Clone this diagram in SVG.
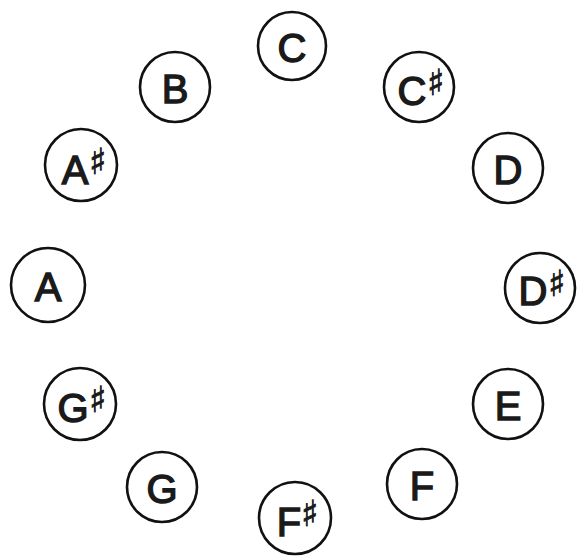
<svg xmlns="http://www.w3.org/2000/svg" width="577" height="556" viewBox="0 0 577 556">
<style>
.n{fill:#fff;stroke:#111;stroke-width:2.6}
.t{font-family:"Liberation Sans",Arial,sans-serif;font-size:40px;fill:#1a1a1a;stroke:#1a1a1a;stroke-width:1.4;text-anchor:middle;dominant-baseline:central}
.s{font-family:"DejaVu Sans",sans-serif;font-size:36px;fill:#1a1a1a;stroke:#1a1a1a;stroke-width:0.8;text-anchor:middle;dominant-baseline:central}
</style>
<rect width="577" height="556" fill="#fff"/>
<g id="connectors"/>
<g id="C"><circle class="n" cx="292" cy="46" r="34"/><text class="t" x="292" y="48">C</text></g>
<g id="Cs"><circle class="n" cx="419" cy="87" r="35"/><text class="t" x="412" y="91">C</text><text class="s" x="436" y="82">♯</text></g>
<g id="D"><circle class="n" cx="508" cy="168" r="35"/><text class="t" x="508" y="170">D</text></g>
<g id="Ds"><circle class="n" cx="540" cy="288" r="35"/><text class="t" x="533" y="291">D</text><text class="s" x="557" y="283">♯</text></g>
<g id="E"><circle class="n" cx="508" cy="404" r="35"/><text class="t" x="508" y="406">E</text></g>
<g id="F"><circle class="n" cx="422" cy="484" r="35"/><text class="t" x="422" y="486">F</text></g>
<g id="Fs"><circle class="n" cx="295" cy="518" r="36"/><text class="t" x="289" y="522">F</text><text class="s" x="310" y="513">♯</text></g>
<g id="G"><circle class="n" cx="162" cy="487" r="35"/><text class="t" x="162" y="489">G</text></g>
<g id="Gs"><circle class="n" cx="80" cy="404" r="36"/><text class="t" x="73" y="408">G</text><text class="s" x="98" y="399">♯</text></g>
<g id="A"><circle class="n" cx="48" cy="285" r="37"/><text class="t" x="48" y="287">A</text></g>
<g id="As"><circle class="n" cx="81" cy="165" r="36"/><text class="t" x="75" y="170">A</text><text class="s" x="98" y="161">♯</text></g>
<g id="B"><circle class="n" cx="175" cy="87" r="35"/><text class="t" x="175" y="89">B</text></g>
</svg>
